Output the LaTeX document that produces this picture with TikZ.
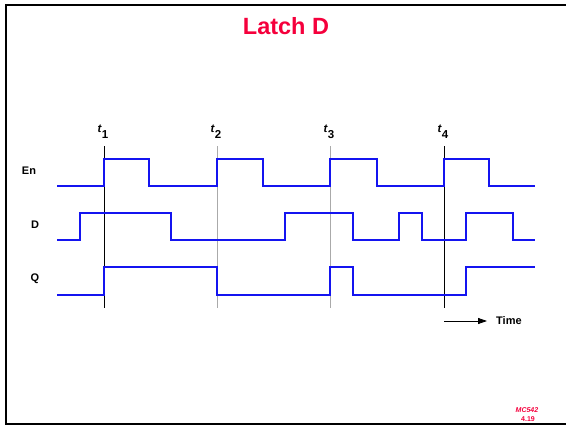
\documentclass[tikz,border=0pt]{standalone}
\usepackage{fontspec}
\setmainfont{Liberation Sans}
\usetikzlibrary{arrows.meta}
\definecolor{titlered}{RGB}{245,0,60}
\definecolor{wave}{RGB}{20,20,240}
\definecolor{guide}{RGB}{170,170,170}
\tikzset{
  sig/.style={wave, line width=1.6pt, line join=miter},
  mark line/.style={black, line width=0.7pt},
  soft line/.style={guide, line width=0.7pt},
  siglabel/.style={font=\fontsize{11}{13}\selectfont\bfseries, inner sep=0pt},
  tlabel/.style={font=\fontsize{11.5}{13}\selectfont\bfseries, inner sep=0pt, anchor=base west},
}
\newcommand{\tmark}[1]{\textit{t}\raisebox{-6pt}{#1}}
\begin{document}
\begin{tikzpicture}[x=1pt,y=-1pt]
\useasboundingbox (0,0) rectangle (566,426);
% frame
\draw[line width=1.8pt] (566,5) -- (6,5) -- (6,424) -- (566,424);
% title
\node[titlered, font=\fontsize{23.5}{26}\selectfont\bfseries, inner sep=0pt] (title) at (286,26) {Latch D};
% time markers
\foreach \n/\x in {1/104,2/217,3/330,4/444}{
  \coordinate (top\n) at (\x,146);
  \coordinate (bot\n) at (\x,308);
}
\draw[mark line] (top1) -- (bot1);
\draw[soft line] (top2) -- (bot2);
\draw[soft line] (top3) -- (bot3);
\draw[mark line] (top4) -- (bot4);
\node[tlabel] (lt1) at (97.5,132) {\tmark{1}};
\node[tlabel] (lt2) at (210.5,132) {\tmark{2}};
\node[tlabel] (lt3) at (323.5,132) {\tmark{3}};
\node[tlabel] (lt4) at (437.5,132) {\tmark{4}};
% signal labels
\node[siglabel] (en) at (29,171) {En};
\node[siglabel] (d) at (35,225) {D};
\node[siglabel] (q) at (35,279) {Q};
% En
\draw[sig] (57,186) -- (104,186) -- (104,159) -- (149,159) -- (149,186) -- (217,186) -- (217,159) -- (263,159) -- (263,186) -- (330,186) -- (330,159) -- (377,159) -- (377,186) -- (444,186) -- (444,159) -- (489,159) -- (489,186) -- (535,186);
% D
\draw[sig] (57,240) -- (80,240) -- (80,213) -- (171,213) -- (171,240) -- (285,240) -- (285,213) -- (353,213) -- (353,240) -- (399,240) -- (399,213) -- (422,213) -- (422,240) -- (466,240) -- (466,213) -- (513,213) -- (513,240) -- (535,240);
% Q
\draw[sig] (57,295) -- (104,295) -- (104,267) -- (217,267) -- (217,295) -- (330,295) -- (330,267) -- (353,267) -- (353,295) -- (466,295) -- (466,267) -- (535,267);
% time arrow
\coordinate (tstart) at (444,321);
\node[siglabel, anchor=west] (time) at (496,321) {Time};
\draw[line width=0.8pt, -{Triangle[length=9pt,width=6pt]}] (tstart) -- (487,321);
% footer
\node[titlered, font=\fontsize{7}{8}\selectfont\bfseries\itshape, inner sep=0pt] (mc) at (527,410) {MC542};
\node[titlered, font=\fontsize{7}{8}\selectfont\bfseries, inner sep=0pt] (pg) at (528,419) {4.19};
\end{tikzpicture}
\end{document}
